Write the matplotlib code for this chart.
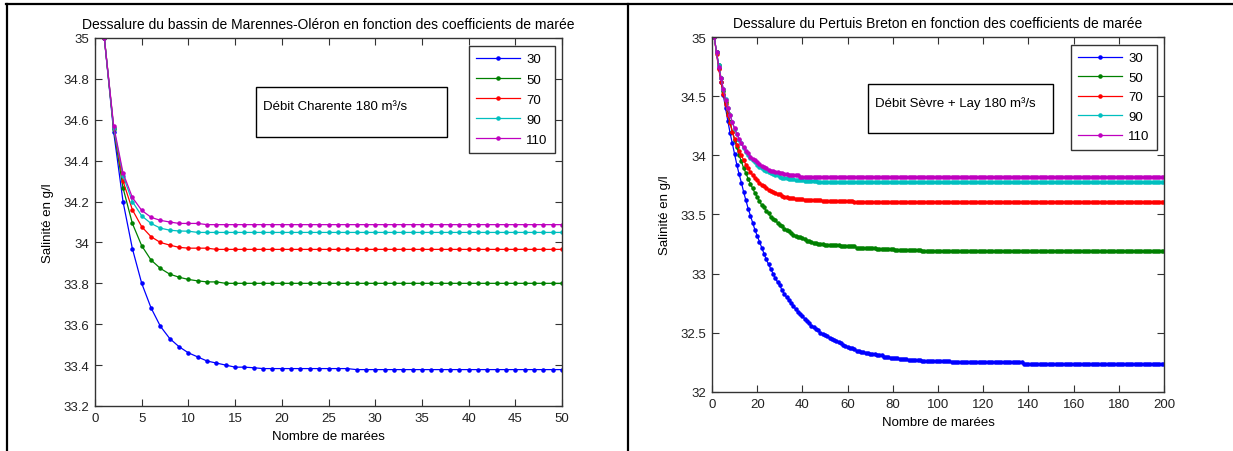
import numpy as np
import matplotlib
matplotlib.use('Agg')
import matplotlib.pyplot as plt
from matplotlib.patches import Rectangle
from matplotlib.lines import Line2D

plt.rcParams['font.family'] = ['Liberation Sans', 'DejaVu Sans']

coefs = ['30', '50', '70', '90', '110']
colors = ['#0000ff', '#008000', '#ff0000', '#00bfbf', '#bf00bf']

# Marennes-Oléron, salinité (g/l) pour 50 marées
mo_30 = [35.00, 34.54, 34.20, 33.97, 33.80, 33.68, 33.59, 33.53, 33.49, 33.46,
         33.44, 33.42, 33.41, 33.40, 33.39, 33.39, 33.387] + [33.383] * 10 + [33.378] * 23
mo_50 = [35.00, 34.556, 34.267, 34.093, 33.984, 33.914, 33.873, 33.845, 33.83, 33.819,
         33.812, 33.807, 33.807] + [33.80] * 37
mo_70 = [35.00, 34.56, 34.30, 34.16, 34.077, 34.028, 34.00, 33.987, 33.976, 33.972,
         33.972, 33.972] + [33.966] * 38
mo_90 = [35.00, 34.56, 34.327, 34.20, 34.13, 34.093, 34.07, 34.06, 34.056, 34.055] + [34.049] * 40
mo_110 = [35.00, 34.57, 34.34, 34.22, 34.157, 34.123, 34.108, 34.10, 34.093, 34.093,
          34.093] + [34.087] * 39

# Pertuis Breton, salinité (g/l) pour 200 marées
pb_30 = [35.00, 34.87, 34.74, 34.62, 34.51, 34.40, 34.29, 34.19, 34.10, 34.01,
         33.92, 33.84, 33.77, 33.69, 33.62, 33.55, 33.49, 33.43, 33.37, 33.32,
         33.27, 33.22, 33.17, 33.12, 33.08, 33.04, 33.00, 32.96, 32.93, 32.90,
         32.86, 32.83, 32.80, 32.78, 32.75, 32.73, 32.70, 32.68, 32.66, 32.64,
         32.62, 32.60, 32.58, 32.56, 32.55, 32.53, 32.52, 32.50, 32.49, 32.48,
         32.47, 32.46, 32.45, 32.44, 32.43, 32.42, 32.41, 32.40, 32.39, 32.38,
         32.37, 32.37, 32.36, 32.35, 32.35, 32.34, 32.34, 32.33, 32.33, 32.32,
         32.32, 32.32, 32.31, 32.31, 32.31, 32.30, 32.30, 32.30, 32.29, 32.29,
         32.29, 32.29, 32.28, 32.28, 32.28, 32.28, 32.27, 32.27, 32.27, 32.27,
         32.27, 32.27] + [32.26] * 13 + [32.25] * 32 + [32.235] * 63
pb_50 = [35.00, 34.87, 34.76, 34.65, 34.54, 34.45, 34.36, 34.28, 34.20, 34.13,
         34.07, 34.00, 33.95, 33.89, 33.85, 33.80, 33.76, 33.72, 33.68, 33.65,
         33.61, 33.58, 33.56, 33.53, 33.51, 33.48, 33.46, 33.45, 33.43, 33.41,
         33.40, 33.38, 33.37, 33.36, 33.34, 33.33, 33.32, 33.31, 33.31, 33.30,
         33.29, 33.28, 33.28, 33.27, 33.26, 33.26, 33.25, 33.25, 33.25, 33.24] \
        + [33.24] * 6 + [33.23] * 7 + [33.22] * 9 + [33.21] * 8 + [33.20] * 12 + [33.192] * 108
pb_70 = [35.00, 34.86, 34.73, 34.62, 34.52, 34.43, 34.34, 34.27, 34.20, 34.14,
         34.09, 34.04, 34.00, 33.96, 33.92, 33.89, 33.86, 33.83, 33.81, 33.79,
         33.77, 33.75, 33.74, 33.72, 33.71, 33.70, 33.69, 33.68, 33.67, 33.67,
         33.66, 33.65, 33.65, 33.64, 33.64, 33.64] \
        + [33.63] * 4 + [33.62] * 8 + [33.61] * 14 + [33.603] * 138
pb_90 = [35.00, 34.87, 34.76, 34.65, 34.56, 34.48, 34.40, 34.34, 34.28, 34.22,
         34.18, 34.13, 34.10, 34.06, 34.03, 34.00, 33.98, 33.96, 33.94, 33.92,
         33.90, 33.89, 33.88, 33.87, 33.86, 33.85, 33.84, 33.83, 33.83, 33.82,
         33.81, 33.81, 33.81] + [33.80] * 3 + [33.79] * 4 + [33.78] * 6 + [33.772] * 154
pb_110 = [35.00, 34.87, 34.75, 34.65, 34.56, 34.47, 34.40, 34.34, 34.28, 34.23,
          34.18, 34.14, 34.10, 34.07, 34.04, 34.02, 33.99, 33.97, 33.96, 33.94,
          33.93, 33.91, 33.90, 33.89, 33.88, 33.87, 33.87, 33.86, 33.86, 33.85,
          33.85, 33.84, 33.84] + [33.83] * 5 + [33.82] * 19 + [33.814] * 143

mo_xticks = [0, 5, 10, 15, 20, 25, 30, 35, 40, 45, 50]
mo_yticks = [33.2, 33.4, 33.6, 33.8, 34, 34.2, 34.4, 34.6, 34.8, 35]
pb_xticks = [0, 20, 40, 60, 80, 100, 120, 140, 160, 180, 200]
pb_yticks = [32, 32.5, 33, 33.5, 34, 34.5, 35]

W, H = 1233, 452
fig = plt.figure(figsize=(W / 100, H / 100), dpi=100)


def box(x0, y0, x1, y1):
    # pixel box (top-left origin) -> figure fraction rect
    return [x0 / W, 1 - y1 / H, (x1 - x0) / W, (y1 - y0) / H]


def setup(ax, title, xticks, yticks):
    ax.set_title(title, fontsize=10, pad=7)
    ax.set_xticks(xticks)
    ax.set_xticklabels([f'{t:g}' for t in xticks])
    ax.set_yticks(yticks)
    ax.set_yticklabels([f'{t:g}' for t in yticks])
    ax.set_xlim(xticks[0], xticks[-1])
    ax.set_ylim(yticks[0], yticks[-1])
    ax.tick_params(direction='in', top=True, right=True, length=5, width=0.8,
                   labelsize=9.5, pad=4, color='#333333', labelcolor='#222222')
    for s in ax.spines.values():
        s.set_color('#333333')
        s.set_linewidth(1)
    ax.set_xlabel('Nombre de marées', fontsize=9.5, labelpad=5)
    ax.set_ylabel('Salinité en g/l', fontsize=9.5, labelpad=7)


def add_legend(ax, right, top, spacing):
    leg = ax.legend(loc='upper right', bbox_to_anchor=(right / W, 1 - top / H),
                    bbox_transform=fig.transFigure, borderaxespad=0, fontsize=9.5,
                    handlelength=3.3, labelspacing=spacing, borderpad=0.55,
                    handletextpad=0.5, fancybox=False, framealpha=1, edgecolor='#333333')
    leg.get_frame().set_linewidth(1)


# left panel
ax1 = fig.add_axes(box(95, 39, 562, 407))
mo_series = [mo_30, mo_50, mo_70, mo_90, mo_110]
for y, c, lab in zip(mo_series, colors, coefs):
    ax1.plot(np.arange(1, len(y) + 1), y, '-', color=c, marker='.', markersize=4.5,
             linewidth=0.9, label=lab)
setup(ax1, 'Dessalure du bassin de Marennes-Oléron en fonction des coefficients de marée',
      mo_xticks, mo_yticks)
add_legend(ax1, 555, 47, 0.6)

# right panel
ax2 = fig.add_axes(box(712, 38, 1164, 393))
pb_series = [pb_30, pb_50, pb_70, pb_90, pb_110]
for y, c, lab in zip(pb_series, colors, coefs):
    ax2.plot(np.arange(1, len(y) + 1), y, '-', color=c, marker='.', markersize=4.5,
             linewidth=0.9, label=lab)
setup(ax2, 'Dessalure du Pertuis Breton en fonction des coefficients de marée',
      pb_xticks, pb_yticks)
add_legend(ax2, 1157, 46, 0.55)

# text boxes
for (x0, y0, x1, y1), txt in [((256, 88, 447, 138), 'Débit Charente 180 m³/s'),
                              ((868, 85, 1053, 134), 'Débit Sèvre + Lay 180 m³/s')]:
    r = box(x0, y0, x1, y1)
    fig.patches.append(Rectangle((r[0], r[1]), r[2], r[3], transform=fig.transFigure,
                                 facecolor='white', edgecolor='black', linewidth=1, zorder=5))
    fig.text((x0 + 7) / W, 1 - (y0 + 19) / H, txt, fontsize=9.5, va='center', ha='left', zorder=6)

# outer frame
for xs, ys in [((6, W), (5, 5)), ((7, 7), (5, H)), ((628, 628), (5, H))]:
    fig.lines.append(Line2D([x / W for x in xs], [1 - y / H for y in ys],
                            transform=fig.transFigure, color='black', linewidth=1.6))

fig.savefig('out.png', dpi=100)
